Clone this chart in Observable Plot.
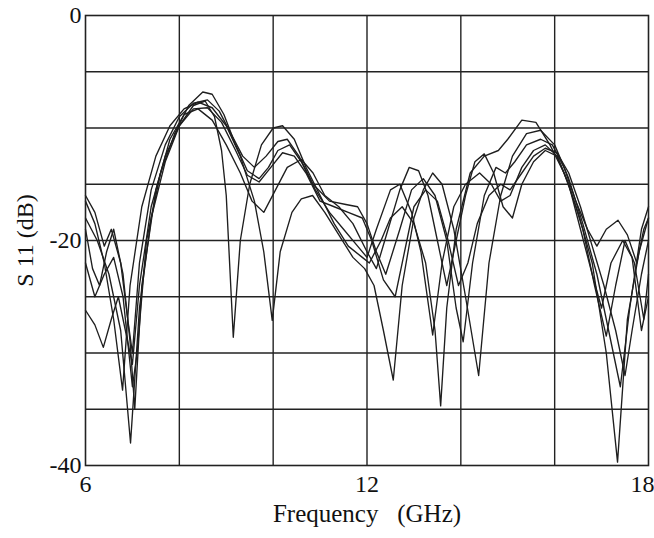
<!DOCTYPE html>
<html>
<head>
<meta charset="utf-8">
<script src="https://cdn.jsdelivr.net/npm/d3@7"></script>
<script src="https://cdn.jsdelivr.net/npm/@observablehq/plot@0.6"></script>
<style>
  html, body { margin: 0; padding: 0; background: #fff; }
</style>
</head>
<body>
<div id="chart"></div>
<script>
// Frequency (GHz), S11 (dB) pairs, one array per trace
const curve1 = [[6.0,-18],[6.25,-20],[6.5,-23],[6.75,-28],[6.96,-38],[7.15,-26],[7.4,-18],[7.7,-13],[8.0,-9.8],[8.3,-8.0],[8.55,-7.6],[8.75,-9],[8.9,-12],[9.0,-16],[9.15,-28.6],[9.3,-20],[9.5,-15],[9.75,-11.5],[10.0,-10],[10.2,-9.8],[10.45,-11],[10.7,-13.5],[11.0,-16],[11.3,-18.5],[11.6,-20.5],[11.9,-21.5],[12.05,-22],[12.3,-20],[12.5,-18],[12.75,-17],[13.0,-18.5],[13.25,-22],[13.45,-28],[13.57,-34.7],[13.7,-26],[13.9,-19],[14.2,-14],[14.5,-12.5],[14.8,-12],[15.0,-11],[15.3,-9.3],[15.6,-9.5],[15.9,-11.5],[16.2,-14],[16.5,-17.5],[16.8,-22],[17.1,-30],[17.34,-39.7],[17.55,-27],[17.8,-21],[18.0,-18]];
const curve2 = [[6.0,-16.5],[6.2,-18.5],[6.4,-22],[6.6,-27],[6.79,-33.3],[6.95,-24],[7.2,-17],[7.5,-12.5],[7.8,-9.8],[8.1,-8.3],[8.4,-7.7],[8.7,-8.2],[9.0,-9.8],[9.3,-12.5],[9.6,-16.5],[9.8,-21],[9.98,-27.1],[10.15,-21],[10.4,-17.5],[10.6,-16.3],[10.84,-16],[11.1,-17.5],[11.4,-19.5],[11.7,-21.5],[11.95,-22.5],[12.15,-24],[12.35,-28],[12.56,-32.4],[12.75,-24],[13.0,-18],[13.2,-15.5],[13.4,-14],[13.6,-15],[13.85,-19],[14.1,-25],[14.38,-32],[14.6,-22],[14.85,-16],[15.1,-12.5],[15.4,-10.5],[15.7,-10.2],[16.0,-11.5],[16.3,-14.5],[16.6,-18.5],[16.9,-23],[17.15,-28],[17.4,-33],[17.6,-26],[17.85,-19],[18.0,-17]];
const curve3 = [[6.0,-22],[6.2,-25],[6.4,-23],[6.6,-21.5],[6.8,-25],[7.0,-33],[7.1,-30],[7.3,-20],[7.6,-14],[7.9,-10.5],[8.2,-8],[8.5,-6.8],[8.7,-7],[8.95,-8.8],[9.2,-11.5],[9.45,-13.8],[9.7,-14.5],[9.9,-13.5],[10.1,-12],[10.35,-11.5],[10.6,-13],[10.9,-15.5],[11.2,-17.5],[11.5,-19],[11.8,-20.5],[12.0,-21.5],[12.2,-19],[12.5,-15.5],[12.7,-15],[12.95,-17.5],[13.15,-21],[13.4,-28.4],[13.6,-22],[13.85,-17],[14.1,-15],[14.4,-14],[14.65,-15],[14.85,-16.5],[15.05,-16],[15.3,-13.5],[15.55,-12],[15.8,-11.5],[16.05,-12.5],[16.3,-15],[16.6,-19],[16.85,-24],[17.1,-28.5],[17.3,-24],[17.5,-20],[17.7,-22],[17.9,-27],[18.0,-23]];
const curve4 = [[6.0,-26.2],[6.2,-27.5],[6.38,-29.5],[6.55,-27],[6.7,-25],[6.85,-28],[7.0,-31],[7.15,-24],[7.4,-17],[7.7,-12.5],[8.0,-9.8],[8.3,-8.3],[8.6,-8.2],[8.9,-9.5],[9.2,-12],[9.45,-14.2],[9.7,-14.8],[9.95,-13.5],[10.2,-12.2],[10.45,-12.5],[10.7,-14],[11.0,-16.5],[11.3,-17],[11.6,-17.5],[11.9,-18],[12.1,-20],[12.35,-23.5],[12.6,-25],[12.8,-21],[13.0,-17],[13.25,-15.5],[13.5,-16.5],[13.7,-19.5],[13.95,-24],[14.15,-22],[14.35,-18.5],[14.6,-16],[14.85,-15],[15.05,-15.5],[15.3,-14],[15.55,-12.5],[15.8,-11.8],[16.05,-12.2],[16.3,-14],[16.55,-17],[16.8,-20.5],[17.05,-24],[17.3,-28],[17.5,-32],[17.65,-28],[17.85,-23],[18.0,-20]];
const curve5 = [[6.0,-16],[6.2,-17.5],[6.4,-20.5],[6.55,-19],[6.75,-22],[6.9,-27],[7.0,-30],[7.15,-22],[7.4,-15.5],[7.7,-11.5],[8.0,-9],[8.3,-7.8],[8.6,-7.5],[8.85,-8.5],[9.1,-10.5],[9.35,-12.5],[9.6,-13.5],[9.85,-12.5],[10.1,-11.2],[10.3,-11],[10.55,-12.5],[10.85,-15],[11.2,-16.5],[11.55,-16.8],[11.8,-17],[12.0,-18.5],[12.2,-21],[12.4,-23],[12.7,-19],[12.95,-15.5],[13.2,-14.5],[13.45,-16],[13.7,-20],[13.9,-26],[14.05,-29],[14.25,-22],[14.5,-16],[14.75,-13.5],[14.95,-14],[15.15,-13],[15.4,-11.5],[15.7,-11],[15.95,-11.5],[16.2,-13.5],[16.45,-16.5],[16.7,-19],[16.9,-20.5],[17.1,-19],[17.35,-18.2],[17.55,-19.5],[17.75,-22],[17.9,-19],[18.0,-18]];
const curve6 = [[6.0,-19],[6.15,-22.5],[6.3,-24],[6.45,-21],[6.6,-19],[6.8,-23],[6.95,-29],[7.05,-35],[7.2,-24],[7.5,-15.5],[7.8,-11],[8.1,-8.8],[8.4,-8.3],[8.7,-9.3],[9.0,-11.5],[9.3,-14],[9.55,-16.5],[9.8,-17.5],[10.05,-15.5],[10.3,-13.5],[10.6,-12.8],[10.85,-14],[11.1,-16],[11.4,-17],[11.7,-18.5],[12.0,-21],[12.2,-22.5],[12.45,-19],[12.7,-15.5],[12.9,-13.5],[13.1,-13.8],[13.3,-16],[13.5,-20],[13.7,-24],[13.9,-20],[14.1,-16],[14.3,-13],[14.5,-12.3],[14.7,-14],[14.9,-17],[15.1,-18],[15.3,-15],[15.55,-13],[15.8,-12],[16.05,-12.5],[16.3,-15],[16.55,-19],[16.8,-23],[17.0,-26],[17.2,-22],[17.45,-20],[17.65,-21.5],[17.85,-28],[18.0,-25]];

const xDomain = [6, 18];
const yDomain = [-40, 0];
const xTicksInner = [6, 12];
const xTicksEdge = [18];
const yTicks = [0, -20, -40];
const xGrid = [8, 10, 12, 14, 16];
const yGrid = [-5, -10, -15, -20, -25, -30, -35];
const xLabel = "Frequency   (GHz)";
const yLabel = "S 11 (dB)";

const curves = [curve1, curve2, curve3, curve4, curve5, curve6];
const data = curves.flatMap((c, i) => c.map(([f, s]) => ({series: i, f, s})));
const serif = "'Liberation Serif', 'DejaVu Serif', serif";

const chart = Plot.plot({
  width: 654,
  height: 538,
  marginTop: 15,
  marginBottom: 73,
  marginLeft: 85,
  marginRight: 6,
  style: {fontFamily: serif, fontSize: "24px", color: "#111", background: "#fff"},
  x: {domain: xDomain, axis: null},
  y: {domain: yDomain, ticks: yTicks, tickSize: 0, tickPadding: 4, tickFormat: d => String(d), label: null},
  marks: [
    Plot.ruleX(xGrid, {stroke: "#222", strokeWidth: 1.4}),
    Plot.ruleY(yGrid, {stroke: "#222", strokeWidth: 1.4}),
    Plot.line(data, {x: "f", y: "s", z: "series", stroke: "#1e1e1e", strokeWidth: 1.35, strokeLinejoin: "round"}),
    Plot.frame({stroke: "#222", strokeWidth: 1.6}),
    Plot.text(xTicksInner, {x: d => d, frameAnchor: "bottom", dy: 26, fontSize: 24, fontFamily: serif, fill: "#111", text: d => String(d)}),
    Plot.text(xTicksEdge, {x: d => d, frameAnchor: "bottom", dy: 26, dx: -6, fontSize: 24, fontFamily: serif, fill: "#111", text: d => String(d)}),
    Plot.text([xLabel], {frameAnchor: "bottom", textAnchor: "middle", dy: 56, fontSize: 25, fontFamily: serif, fill: "#111"}),
    Plot.text([yLabel], {frameAnchor: "left", textAnchor: "middle", dx: -60, rotate: -90, fontSize: 24, fontFamily: serif, fill: "#111"})
  ]
});
document.getElementById("chart").appendChild(chart);
</script>
</body>
</html>
